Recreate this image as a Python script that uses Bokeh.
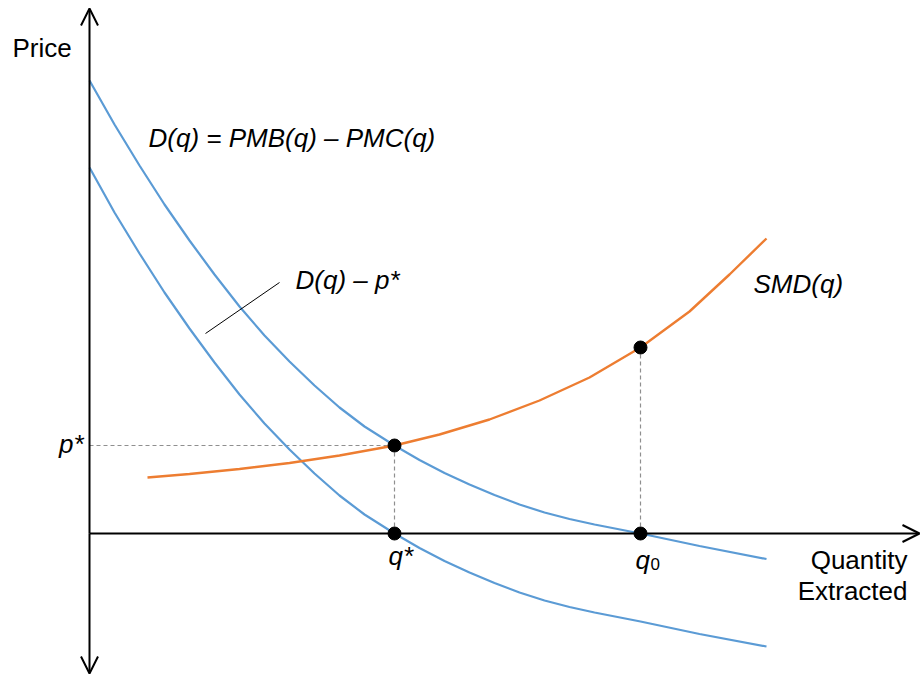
from bokeh.plotting import figure
from bokeh.models import Range1d, Arrow, OpenHead, Label, ColumnDataSource
from bokeh.embed import file_html
from bokeh.resources import INLINE

# ---- data (schematic units: quantity q, price p) ----
# Demand D(q) = PMB(q) - PMC(q)
d_q = [0.0, 2.5, 5.0, 7.5, 10.0, 12.5, 15.0, 17.5, 20.0, 22.5, 25.0, 27.5, 30.5,
       33.0, 35.5, 38.0, 40.5, 43.0, 45.5, 48.0, 50.5, 55.1, 61.0, 67.7]
d_p = [45.3, 40.9, 36.8, 32.9, 29.3, 25.9, 22.7, 19.8, 17.2, 14.8, 12.6, 10.7, 8.8,
       7.35, 6.05, 4.9, 3.85, 2.9, 2.1, 1.45, 0.9, 0.0, -1.25, -2.55]
# D(q) - p*
dp_q = [0.0, 2.5, 5.0, 7.5, 10.0, 12.5, 15.0, 17.5, 20.0, 22.5, 25.0, 27.5, 30.5,
        33.0, 35.5, 38.0, 40.5, 43.0, 45.5, 48.0, 50.5, 55.1, 61.0, 67.7]
dp_p = [36.6, 32.1, 28.0, 24.1, 20.5, 17.1, 13.9, 11.0, 8.4, 6.0, 3.8, 1.9, 0.0,
        -1.45, -2.75, -3.9, -4.95, -5.9, -6.7, -7.35, -7.9, -8.8, -10.05, -11.3]
# Social marginal damage SMD(q)
smd_q = [5.8, 10.0, 15.0, 20.0, 25.0, 30.5, 35.0, 40.0, 45.0, 50.0, 55.1, 60.0, 64.0, 67.7]
smd_p = [5.6, 5.95, 6.45, 7.05, 7.8, 8.8, 9.9, 11.4, 13.3, 15.6, 18.6, 22.2, 25.9, 29.5]
# Key points
p_star = 8.8
q_star = 30.5
q_zero = 55.1
smd_q0 = 18.6
# leader line for the D(q) - p* label
leader_q = [11.6, 19.0]
leader_p = [20.0, 25.1]

BLUE = "#5B9BD5"
ORANGE = "#ED7D31"
GRAY = "#8F8F8F"
FONT = "Liberation Sans"

p = figure(width=920, height=675, output_backend="svg", toolbar_location=None,
           x_range=Range1d(-8.9, 83.1), y_range=Range1d(-14.2, 53.3),
           min_border=0, outline_line_color=None)
p.xaxis.visible = False
p.yaxis.visible = False
p.grid.visible = False

# dashed guide lines
p.line([0, q_star], [p_star, p_star], line_color=GRAY, line_width=1.2, line_dash="4 3")
p.line([q_star, q_star], [0, p_star], line_color=GRAY, line_width=1.2, line_dash="4 3")
p.line([q_zero, q_zero], [0, smd_q0], line_color=GRAY, line_width=1.2, line_dash="4 3")

# axes with open arrow heads
def axis_arrow(x1, y1):
    p.add_layout(Arrow(end=OpenHead(size=17, line_width=2, line_color="black"),
                       x_start=0, y_start=0, x_end=x1, y_end=y1,
                       line_width=2, line_color="black"))

axis_arrow(0, 52.5)
axis_arrow(0, -14.0)
axis_arrow(83.0, 0)

# curves
p.line(d_q, d_p, line_color=BLUE, line_width=2.2)
p.line(dp_q, dp_p, line_color=BLUE, line_width=2.2)
p.line(smd_q, smd_p, line_color=ORANGE, line_width=2.4)
p.line(leader_q, leader_p, line_color="black", line_width=1)

# points
pts = ColumnDataSource(dict(x=[q_star, q_star, q_zero, q_zero], y=[p_star, 0, 0, smd_q0]))
p.scatter("x", "y", source=pts, size=13, fill_color="black", line_color="black")

def lab(x, y, t, size="26px", style="italic", align="left"):
    p.add_layout(Label(x=x, y=y, text=t, text_font=FONT, text_font_size=size,
                       text_font_style=style, text_align=align,
                       text_baseline="alphabetic", text_color="black"))

lab(-7.7, 48.6, "Price", style="normal")
lab(5.9, 39.6, "D(q) = PMB(q) \u2013 PMC(q)")
lab(20.6, 25.4, "D(q) \u2013 p*")
lab(66.4, 25.0, "SMD(q)")
lab(-0.6, 9.0, "p*", align="right")
lab(29.9, -2.2, "q*")
lab(54.6, -2.6, "q")
lab(56.1, -3.0, "0", size="17px", style="normal")
lab(81.8, -2.6, "Quantity", style="normal", align="right")
lab(81.8, -5.7, "Extracted", style="normal", align="right")

open("out.html", "w").write(file_html(p, INLINE))
